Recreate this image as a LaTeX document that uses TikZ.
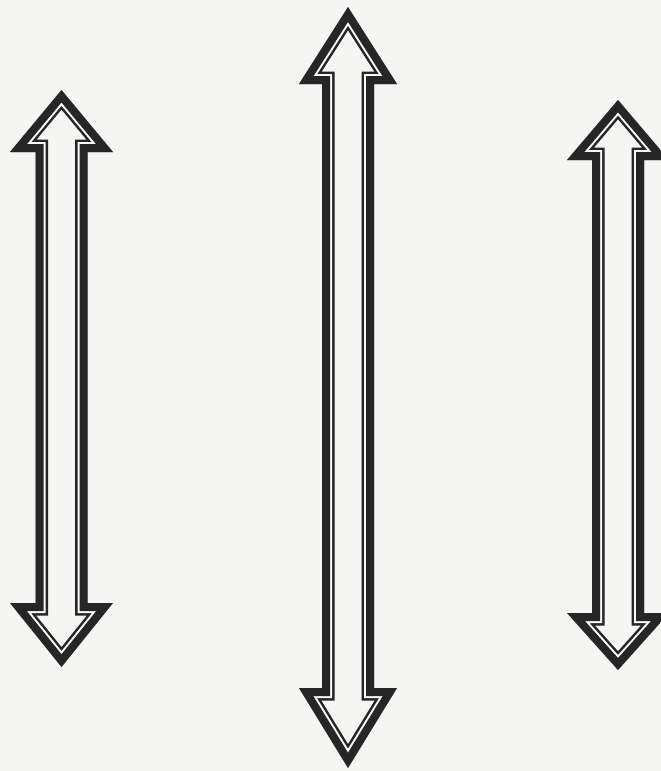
\documentclass[tikz,border=0pt]{standalone}
\definecolor{paper}{RGB}{245,245,244}
\definecolor{ink}{RGB}{38,38,38}
\definecolor{gapc}{RGB}{250,250,250}
\tikzset{
  band/.style={line join=miter, miter limit=20},
}
% cx, ytop, ybot, half head, half shaft, head length top, head length bottom
\newcommand\dblarrpath[7]{(#1,#2) -- ({#1+#4},{#2+#6}) -- ({#1+#5},{#2+#6}) -- ({#1+#5},{#3-#7}) -- ({#1+#4},{#3-#7}) -- (#1,#3) -- ({#1-#4},{#3-#7}) -- ({#1-#5},{#3-#7}) -- ({#1-#5},{#2+#6}) -- ({#1-#4},{#2+#6}) -- cycle}
\newcommand\dblarr[7]{%
  \begin{scope}
    \clip \dblarrpath{#1}{#2}{#3}{#4}{#5}{#6}{#7};
    \fill[paper] \dblarrpath{#1}{#2}{#3}{#4}{#5}{#6}{#7};
    \draw[band, ink, line width=25pt] \dblarrpath{#1}{#2}{#3}{#4}{#5}{#6}{#7};
    \draw[band, gapc, line width=20pt] \dblarrpath{#1}{#2}{#3}{#4}{#5}{#6}{#7};
    \draw[band, ink, line width=16pt] \dblarrpath{#1}{#2}{#3}{#4}{#5}{#6}{#7};
  \end{scope}}
\begin{document}
\begin{tikzpicture}[x=1pt,y=-1pt]
  \fill[paper] (0,0) rectangle (661,771);
  \useasboundingbox (0,0) rectangle (661,771);
  \dblarr{61.5}{90}{667}{51.5}{26}{62}{64}
  \dblarr{348}{7}{768}{49}{26}{77}{80}
  \dblarr{618}{100}{670}{51}{26}{60}{57}
\end{tikzpicture}
\end{document}
